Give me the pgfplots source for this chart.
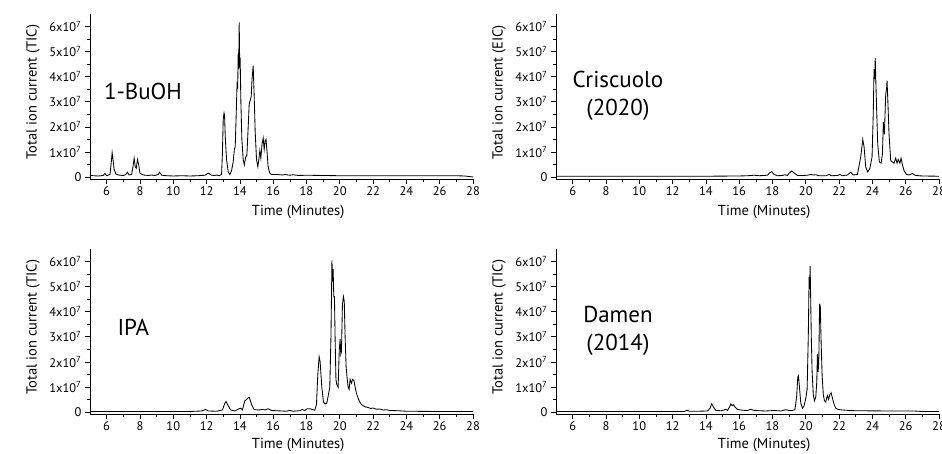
\documentclass[border=0pt]{standalone}
\usepackage{pgfplots}
\pgfplotsset{compat=1.18}
\usepackage{fontspec}
\setmainfont{PT Sans}
\usetikzlibrary{calc}

\tikzset{ann/.style={font=\fontsize{23}{28}\selectfont, align=center}}
\pgfplotsset{
  chrom/.style={
    scale only axis,
    width=383pt, height=165pt,
    xmin=5, xmax=28, ymin=-0.08, ymax=6.5,
    axis x line*=bottom, axis y line*=left,
    axis line style={-, line width=0.7pt},
    tick align=outside,
    major tick length=5pt, minor tick length=3pt,
    tick style={line width=0.6pt, black},
    xtick={6,8,...,28}, minor x tick num=1,
    ytick={0,1,2,3,4,5,6}, minor y tick num=1,
    yticklabels={0,1x10\textsuperscript{7},2x10\textsuperscript{7},3x10\textsuperscript{7},4x10\textsuperscript{7},5x10\textsuperscript{7},6x10\textsuperscript{7}},
    /pgf/number format/assume math mode=true,
    tick label style={font=\fontsize{12.5}{14}\selectfont},
    xticklabel style={yshift=1pt},
    label style={font=\fontsize{14.5}{16}\selectfont},
    xlabel={Time (Minutes)},
    clip=false,
  },
  chromline/.style={black, line width=0.85pt},
}

\begin{document}
\begin{tikzpicture}
\path[use as bounding box] (0,0) rectangle (942pt,454pt);

% ---------- top left: 1-BuOH ----------
\begin{axis}[chrom, at={(90pt,275pt)}, anchor=south west,
  ylabel={Total ion current (TIC)},
  xlabel style={at={($(rel axis cs:0.5435,0)+(0,-33pt)$)}, anchor=center},
  ylabel style={at={($(rel axis cs:0,0.526)+(-57pt,0pt)$)}, anchor=center}]
\addplot[chromline] coordinates {
(5.0,0.07)(5.2,0.05)(5.5,0.04)(5.8,0.06)(5.9,0.14)(6.0,0.05)(6.2,0.1)(6.28,0.6)(6.33,0.97)(6.38,0.7)(6.45,0.3)(6.55,0.12)(6.7,0.08)(7.0,0.06)(7.15,0.1)(7.25,0.19)(7.35,0.08)(7.5,0.1)(7.58,0.4)(7.65,0.75)(7.72,0.4)(7.78,0.35)(7.85,0.7)(7.92,0.5)(8.0,0.15)(8.2,0.08)(8.5,0.06)(8.7,0.08)(8.9,0.06)(9.1,0.1)(9.18,0.19)(9.3,0.07)(9.6,0.05)(10.0,0.04)(10.5,0.05)(11.0,0.04)(11.5,0.05)(11.9,0.07)(12.1,0.15)(12.3,0.07)(12.5,0.06)(12.6,0.08)(12.75,0.05)(12.9,0.1)(12.95,0.9)(13.0,2.3)(13.05,2.55)(13.08,2.45)(13.13,1.5)(13.2,0.7)(13.3,0.2)(13.4,0.1)(13.5,0.25)(13.6,0.6)(13.67,1.1)(13.72,1.2)(13.78,2.5)(13.83,3.7)(13.87,3.6)(13.9,4.95)(13.93,4.3)(13.96,6.17)(13.99,4.5)(14.02,4.6)(14.06,3.0)(14.12,1.5)(14.2,0.7)(14.27,0.48)(14.35,0.8)(14.42,0.85)(14.5,2.0)(14.56,2.9)(14.62,3.05)(14.68,3.2)(14.73,3.9)(14.8,4.44)(14.86,3.2)(14.92,1.8)(15.0,0.7)(15.08,0.41)(15.15,0.75)(15.2,1.05)(15.26,0.75)(15.33,1.3)(15.4,1.55)(15.46,1.1)(15.52,1.45)(15.57,1.5)(15.62,1.1)(15.7,0.4)(15.8,0.15)(15.9,0.1)(16.2,0.1)(16.6,0.08)(16.7,0.1)(17.0,0.07)(17.2,0.09)(17.5,0.06)(18,0.07)(19,0.06)(20,0.05)(22,0.05)(24,0.05)(26,0.05)(27,0.05)(27.5,0.04)(28,0.0)
};
\node[ann] at (axis cs:8.18,3.4) {1-BuOH};
\end{axis}

% ---------- top right: Criscuolo ----------
\begin{axis}[chrom, at={(556pt,275pt)}, anchor=south west,
  ylabel={Total ion current (EIC)},
  xlabel style={at={($(rel axis cs:0.5435,0)+(0,-33pt)$)}, anchor=center},
  ylabel style={at={($(rel axis cs:0,0.526)+(-57pt,0pt)$)}, anchor=center}]
\addplot[chromline] coordinates {
(5,0.03)(8,0.03)(12,0.03)(14,0.03)(16,0.04)(16.5,0.05)(16.9,0.07)(17.2,0.05)(17.7,0.07)(17.85,0.18)(17.95,0.21)(18.1,0.1)(18.3,0.05)(18.6,0.06)(18.75,0.09)(18.9,0.06)(19.0,0.15)(19.15,0.24)(19.3,0.16)(19.5,0.06)(19.8,0.06)(20.1,0.07)(20.3,0.1)(20.45,0.08)(20.6,0.09)(20.8,0.05)(21.2,0.05)(21.4,0.1)(21.55,0.05)(21.9,0.06)(22.05,0.1)(22.2,0.05)(22.5,0.08)(22.7,0.19)(22.85,0.08)(23.1,0.1)(23.3,0.8)(23.42,1.5)(23.5,1.2)(23.6,0.4)(23.72,0.2)(23.85,0.35)(23.98,0.8)(24.05,2.5)(24.1,4.3)(24.14,3.9)(24.17,4.75)(24.2,4.0)(24.25,2.8)(24.32,1.3)(24.42,0.6)(24.52,0.55)(24.6,0.9)(24.66,2.2)(24.72,1.7)(24.8,3.3)(24.85,3.5)(24.88,3.84)(24.93,3.0)(25.0,1.7)(25.1,0.65)(25.2,0.6)(25.3,0.55)(25.4,0.75)(25.48,0.55)(25.55,0.7)(25.65,0.55)(25.72,0.75)(25.8,0.5)(25.9,0.25)(26.05,0.1)(26.2,0.08)(26.4,0.14)(26.6,0.06)(27,0.04)(28,0.03)
};
\node[ann] at (axis cs:8.72,3.24) {Criscuolo\\(2020)};
\end{axis}

% ---------- bottom left: IPA ----------
\begin{axis}[chrom, at={(90pt,40pt)}, anchor=south west,
  ylabel={Total ion current (TIC)},
  xlabel style={at={($(rel axis cs:0.5435,0)+(0,-30.5pt)$)}, anchor=center},
  ylabel style={at={($(rel axis cs:0,0.526)+(-57pt,0pt)$)}, anchor=center}]
\addplot[chromline] coordinates {
(5,0.02)(8,0.02)(11,0.02)(11.7,0.04)(11.95,0.1)(12.1,0.04)(12.6,0.03)(12.95,0.08)(13.1,0.35)(13.17,0.42)(13.3,0.25)(13.45,0.08)(13.7,0.04)(13.95,0.13)(14.05,0.15)(14.15,0.08)(14.3,0.45)(14.4,0.5)(14.5,0.57)(14.57,0.58)(14.7,0.3)(14.85,0.1)(15.1,0.08)(15.35,0.1)(15.5,0.08)(15.7,0.13)(15.9,0.06)(16.2,0.05)(16.5,0.04)(16.8,0.03)(17.0,0.06)(17.2,0.03)(17.6,0.05)(17.75,0.1)(17.9,0.06)(18.05,0.13)(18.2,0.13)(18.35,0.1)(18.5,0.07)(18.6,0.3)(18.68,1.5)(18.76,2.2)(18.82,2.0)(18.92,1.0)(19.02,0.4)(19.12,0.32)(19.22,0.35)(19.32,0.7)(19.4,1.0)(19.47,3.0)(19.53,6.05)(19.57,5.2)(19.6,5.7)(19.64,4.6)(19.68,4.6)(19.72,2.9)(19.77,1.3)(19.82,1.1)(19.9,0.99)(19.97,2.5)(20.02,2.9)(20.06,2.3)(20.1,2.4)(20.16,4.3)(20.22,4.6)(20.27,4.4)(20.32,3.0)(20.38,1.8)(20.45,1.3)(20.5,1.0)(20.56,0.9)(20.62,1.3)(20.7,1.15)(20.77,1.3)(20.85,1.25)(20.92,1.0)(21.0,0.75)(21.1,0.55)(21.2,0.4)(21.3,0.3)(21.4,0.25)(21.55,0.2)(21.7,0.18)(21.85,0.14)(22.0,0.16)(22.2,0.11)(22.4,0.12)(22.6,0.08)(22.8,0.09)(23.0,0.06)(23.5,0.05)(24,0.03)(26,0.02)(28,0.02)
};
\node[ann] at (axis cs:7.6,3.38) {IPA};
\end{axis}

% ---------- bottom right: Damen ----------
\begin{axis}[chrom, at={(556pt,40pt)}, anchor=south west,
  ylabel={Total ion current (TIC)},
  xlabel style={at={($(rel axis cs:0.5435,0)+(0,-30.5pt)$)}, anchor=center},
  ylabel style={at={($(rel axis cs:0,0.526)+(-57pt,0pt)$)}, anchor=center}]
\addplot[chromline] coordinates {
(5,0.02)(10,0.02)(12.7,0.02)(12.85,0.07)(13.0,0.03)(13.5,0.03)(14.1,0.04)(14.25,0.15)(14.35,0.33)(14.45,0.2)(14.6,0.06)(14.9,0.05)(15.1,0.08)(15.2,0.11)(15.3,0.06)(15.42,0.2)(15.5,0.32)(15.58,0.25)(15.65,0.3)(15.75,0.2)(15.9,0.1)(16.2,0.07)(16.5,0.06)(16.7,0.11)(16.85,0.07)(17.2,0.05)(17.6,0.04)(18.1,0.06)(18.5,0.04)(18.8,0.09)(19.0,0.06)(19.2,0.06)(19.35,0.1)(19.45,0.6)(19.52,1.4)(19.56,1.45)(19.62,1.0)(19.7,0.35)(19.8,0.15)(19.9,0.25)(20.0,0.55)(20.08,0.9)(20.15,3.0)(20.2,5.39)(20.23,4.9)(20.26,5.83)(20.29,4.7)(20.33,3.0)(20.38,1.6)(20.45,0.7)(20.52,0.44)(20.6,0.6)(20.66,1.2)(20.7,2.32)(20.74,1.6)(20.78,2.0)(20.83,4.28)(20.87,4.25)(20.92,2.8)(20.98,1.5)(21.05,0.7)(21.12,0.45)(21.2,0.4)(21.25,0.55)(21.3,0.65)(21.37,0.5)(21.45,0.7)(21.52,0.77)(21.6,0.55)(21.7,0.3)(21.8,0.15)(21.95,0.1)(22.2,0.08)(22.6,0.06)(23,0.05)(25,0.04)(26.5,0.04)(27,0.02)(28,0.02)
};
\node[ann] at (axis cs:8.72,3.24) {Damen\\(2014)};
\end{axis}
\end{tikzpicture}
\end{document}
